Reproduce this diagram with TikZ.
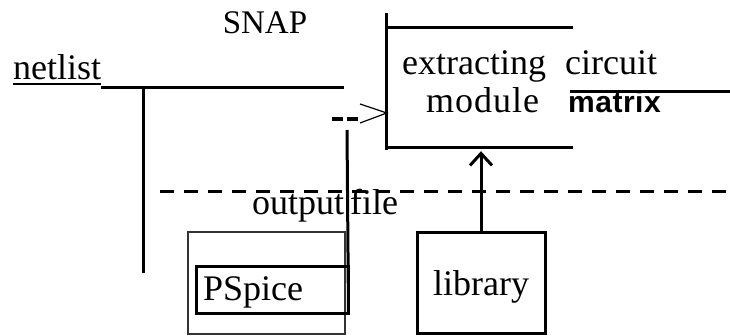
\documentclass[tikz,border=0pt]{standalone}
\usepackage{fontspec}
\setmainfont{Liberation Serif}
\newfontfamily\matfont{Liberation Sans}
\usetikzlibrary{arrows.meta}

\tikzset{
  lbl/.style={inner sep=0pt, anchor=base west, font=\fontsize{36}{38}\selectfont},
  wire/.style={line width=3pt},
  unit/.style={draw, line width=3pt, inner sep=0pt, font=\fontsize{36}{38}\selectfont}
}

\begin{document}
\begin{tikzpicture}[x=1pt,y=-1pt]
  \useasboundingbox (0,0) rectangle (730,336);

  % labels
  \node[lbl, anchor=base, font=\fontsize{33}{36}\selectfont] (snap) at (265,34) {SNAP};
  \node[lbl] (netlist) at (13,80) {netlist};
  \node[lbl] (extr) at (402,75) {extracting};
  \node[lbl] (modl) at (426,113) {m\kern1pt o\kern1pt d\kern1pt u\kern1pt l\kern1pt e};
  \node[lbl] (circuit) at (565,75) {circuit};
  \node[lbl, font=\matfont\bfseries\fontsize{30}{32}\selectfont] (matrix) at (568,113) {m\kern.5pt a\kern.5pt t\kern.5pt r\kern.5pt i\kern.5pt x};
  \node[lbl] (outfile) at (252,215) {output\kern6pt file};

  % the module, open on the right
  \node[minimum width=186pt, minimum height=119pt, inner sep=0pt] (module) at (480,87.5) {};
  \draw[wire] ([yshift=15pt]module.north west) -- ([yshift=-3pt]module.south west);
  \draw[wire] (module.north west) -- (module.north east);
  \draw[wire] (module.south west) -- (module.south east);

  % boxes
  \node[draw=black!80, line width=1.5pt, minimum width=157pt, minimum height=102pt] (pswin) at (266.5,283) {};
  \node[unit, minimum width=152pt, minimum height=46pt, text width=138pt, align=left,
        text height=30pt, text depth=8pt] (pspice) at (272,290) {PSpice};
  \node[unit, minimum width=128pt, minimum height=100pt, text height=32pt, text depth=8pt] (library) at (481,283) {library};

  % netlist feed
  \draw[line width=1.5pt] ([yshift=-4pt]netlist.base west) -- ([yshift=-4pt]netlist.base east);
  \draw[wire] (netlist.base east) ++(0,8) coordinate (nl) -- (344,88);
  \draw[wire] (143,88) -- (143,273);

  % output file back to the module
  \coordinate (fileout) at (347,130);
  \draw[wire] (pspice.south east) ++(-1,0) -- (fileout);
  \draw[line width=3.5pt, dash pattern=on 11pt off 4pt] (332,119) -- (358,119);
  \draw[line width=1.2pt, line join=miter] (360,104) -- (module.west |- 0,113) -- (360,123);

  % library into the module
  \draw[wire, -{Straight Barb[length=12pt, width=22pt, line width=3pt]}, shorten >=4pt]
    (library.north) -- (library.north |- module.south);

  % separator and output
  \draw[line width=3pt, dash pattern=on 14pt off 10pt] (160,192) -- (730,192);
  \draw[wire] (570,92) -- (730,92);
\end{tikzpicture}
\end{document}
